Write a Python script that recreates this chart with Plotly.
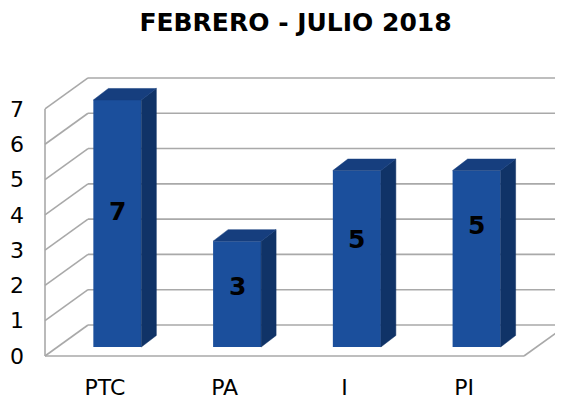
import plotly.graph_objects as go

# ---- data ----
categories = ["PTC", "PA", "I", "PI"]
values = [7, 3, 5, 5]
y_ticks = [0, 1, 2, 3, 4, 5, 6, 7]
title_text = "FEBRERO - JULIO 2018"

# ---- style / geometry (pixels -> data units) ----
PAGE_OFF = 8           # default body margin of the html page
W, H = 563 - PAGE_OFF, 400 - PAGE_OFF
PX_X = 119.75          # pixels per category
PX_Y = 35.29           # pixels per unit value
L_PX, R_PX, T_PX, B_PX = 43, 563, 76, 358   # in window pixels
xmin = -0.5 - 2 / PX_X
xmax = xmin + (R_PX - L_PX) / PX_X
ymin = -2 / PX_Y
ymax = ymin + (B_PX - T_PX) / PX_Y

DX = 43 / PX_X         # wall depth, x
DY = 31 / PX_Y         # wall depth, y
F0 = 0.29              # bar front plane depth fraction
BX0 = F0 * DX
BASE = F0 * DY
BAR_W = 48 / PX_X
BAR_OFF = -0.5 * BAR_W + BX0
BDX = 15 / PX_X
BDY = 11.5 / PX_Y
label_frac = [0.55, 0.57, 0.61, 0.69]

C_FRONT = "#1B4F9C"
C_TOP = "#163E7E"
C_SIDE = "#103367"
C_GRID = "#A9A9A9"
FONT = "DejaVu Sans"

fig = go.Figure()

xpos = list(range(len(categories)))

# wall / floor lines
shapes = []
ymax_tick = max(y_ticks)
for v in y_ticks:
    shapes.append(dict(type="line", xref="x", yref="y", x0=-0.5 + DX, y0=v + DY,
                       x1=xmax + 1, y1=v + DY, line=dict(color=C_GRID, width=1.6), layer="below"))
    shapes.append(dict(type="line", xref="x", yref="y", x0=-0.5, y0=v,
                       x1=-0.5 + DX, y1=v + DY, line=dict(color=C_GRID, width=1.6), layer="below"))
shapes.append(dict(type="line", xref="x", yref="y", x0=-0.5, y0=0, x1=-0.5, y1=ymax_tick,
                   line=dict(color=C_GRID, width=1.6), layer="below"))
nlast = len(categories) - 0.5
shapes.append(dict(type="line", xref="x", yref="y", x0=-0.5, y0=0, x1=nlast, y1=0,
                   line=dict(color=C_GRID, width=1.6), layer="below"))
shapes.append(dict(type="line", xref="x", yref="y", x0=nlast, y0=0, x1=nlast + DX, y1=DY,
                   line=dict(color=C_GRID, width=1.6), layer="below"))

# front faces
fig.add_trace(go.Bar(x=xpos, y=values, base=BASE, offset=BAR_OFF, width=BAR_W,
                     marker=dict(color=C_FRONT, line=dict(width=0)), hoverinfo="skip"))

# side and top faces
sx, sy, tx, ty = [], [], [], []
for i, v in zip(xpos, values):
    xl = i + BAR_OFF
    xr = xl + BAR_W
    b = BASE
    t = BASE + v
    sx += [xr, xr + BDX, xr + BDX, xr, xr, None]
    sy += [b, b + BDY, t + BDY, t, b, None]
    tx += [xl, xl + BDX, xr + BDX, xr, xl, None]
    ty += [t, t + BDY, t + BDY, t, t, None]
fig.add_trace(go.Scatter(x=sx, y=sy, fill="toself", fillcolor=C_SIDE, mode="lines",
                         line=dict(color=C_SIDE, width=0.5), hoverinfo="skip"))
fig.add_trace(go.Scatter(x=tx, y=ty, fill="toself", fillcolor=C_TOP, mode="lines",
                         line=dict(color=C_TOP, width=0.5), hoverinfo="skip"))

# value labels
annotations = []
for i, v, fr in zip(xpos, values, label_frac):
    annotations.append(dict(x=i + BAR_OFF + BAR_W / 2, y=BASE + v * fr, xref="x", yref="y",
                            text="<b>%d</b>" % v, showarrow=False,
                            font=dict(family=FONT, size=25, color="black", weight="bold")))

fig.update_layout(
    width=W, height=H,
    margin=dict(l=L_PX - PAGE_OFF, r=563 - R_PX, t=T_PX - PAGE_OFF, b=400 - B_PX,
                pad=0, autoexpand=False),
    paper_bgcolor="white", plot_bgcolor="white",
    showlegend=False,
    shapes=shapes,
    annotations=annotations,
    title=dict(text="<b>" + title_text + "</b>", x=(295.5 - PAGE_OFF) / W, xanchor="center",
               xref="container",
               y=1 - (22.5 - PAGE_OFF) / H, yanchor="middle", yref="container",
               font=dict(family=FONT, size=25, color="black")),
    font=dict(family=FONT, color="black"),
)
fig.update_xaxes(range=[xmin, xmax], tickvals=xpos, ticktext=categories, automargin=False,
                 showgrid=False, zeroline=False, showline=False, ticks="",
                 tickfont=dict(size=22, family=FONT, color="black"), ticklabelstandoff=14,
                 fixedrange=True)
fig.update_yaxes(range=[ymin, ymax], tickvals=y_ticks, automargin=False,
                 showgrid=False, zeroline=False, showline=False, ticks="",
                 tickfont=dict(size=22, family=FONT, color="black"), ticklabelstandoff=18,
                 fixedrange=True)

fig.write_html("out.html", config={"displayModeBar": False})
